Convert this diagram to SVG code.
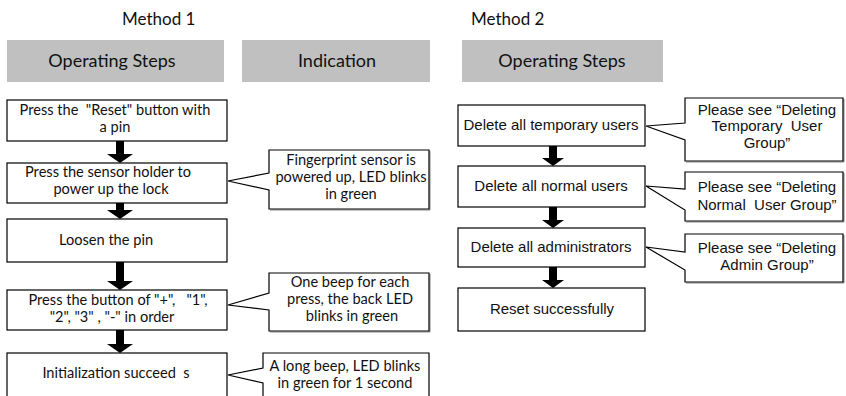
<svg xmlns="http://www.w3.org/2000/svg" width="846" height="396" viewBox="0 0 846 396">
  <style>
    .title { font-family: Lato, "Open Sans", sans-serif; font-size: 17px; fill: #111; }
    .hdr { fill: #c0c0c0; }
    .hdrtxt { font-family: Lato, "Open Sans", sans-serif; font-size: 18px; fill: #111; text-anchor: middle; }
    .box { fill: #fff; stroke: #000; stroke-width: 1.2; }
    .call { fill: #fff; stroke: #000; stroke-width: 1.2; }
    .shadow { fill: none; stroke: #888; stroke-width: 1; }
    .t1 { font-family: Lato, "Open Sans", sans-serif; font-size: 14.6px; fill: #111; text-anchor: middle; white-space: pre; }
    .t2 { font-family: "Liberation Sans", Arial, sans-serif; font-size: 15px; fill: #111; text-anchor: middle; white-space: pre; }
    .arrow { fill: #000; }
  </style>
  <rect width="846" height="396" fill="#fff"/>

  <!-- column titles and headers -->
  <g id="headers">
    <text class="title" x="122" y="25">Method 1</text>
    <text class="title" x="471" y="25">Method 2</text>
    <rect class="hdr" x="7" y="40" width="217" height="42"/>
    <text class="hdrtxt" x="112" y="67">Operating Steps</text>
    <rect class="hdr" x="242" y="40" width="188" height="42"/>
    <text class="hdrtxt" x="337" y="67">Indication</text>
    <rect class="hdr" x="462" y="40" width="201" height="42"/>
    <text class="hdrtxt" x="562" y="67">Operating Steps</text>
  </g>

  <!-- Method 1 steps -->
  <g id="m1-step1">
    <rect class="box" x="7" y="100" width="220" height="41"/>
    <text class="t1" x="115" y="115">Press the  "Reset" button with</text>
    <text class="t1" x="115" y="132">a pin</text>
  </g>
  <g id="m1-step2">
    <rect class="box" x="7" y="163" width="220" height="40"/>
    <text class="t1" x="108" y="177">Press the sensor holder to</text>
    <text class="t1" x="111" y="194">power up the lock</text>
  </g>
  <g id="m1-step3">
    <rect class="box" x="7" y="219" width="220" height="43"/>
    <text class="t1" x="106" y="245">Loosen the pin</text>
  </g>
  <g id="m1-step4">
    <rect class="box" x="7" y="290" width="220" height="40"/>
    <text class="t1" x="118" y="305">Press the button of "+",   "1",</text>
    <text class="t1" x="112" y="322">"2", "3" , "-" in order</text>
  </g>
  <g id="m1-step5">
    <rect class="box" x="7" y="353" width="220" height="50"/>
    <text class="t1" x="116" y="378">Initialization succeed  s</text>
  </g>

  <!-- Method 1 indications -->
  <g id="m1-note1">
    <path class="shadow" d="M430 151 V210 H270"/>
    <path class="call" d="M269 150 H429 V209 H269 V190 L228 181 L269 173 Z"/>
    <text class="t1" x="351" y="165">Fingerprint sensor is</text>
    <text class="t1" x="351" y="182">powered up, LED blinks</text>
    <text class="t1" x="351" y="199">in green</text>
  </g>
  <g id="m1-note2">
    <path class="shadow" d="M430 274 V332 H270"/>
    <path class="call" d="M269 273 H429 V331 H269 V310 L228 305 L269 293 Z"/>
    <text class="t1" x="350" y="287">One beep for each</text>
    <text class="t1" x="350" y="304">press, the back LED</text>
    <text class="t1" x="352" y="321">blinks in green</text>
  </g>
  <g id="m1-note3">
    <path class="call" d="M263 353 H429 V400 H263 V383 L228 375 L263 368 Z"/>
    <text class="t1" x="345" y="371">A long beep, LED blinks</text>
    <text class="t1" x="345" y="388">in green for 1 second</text>
  </g>

  <!-- Method 2 steps -->
  <g id="m2-step1">
    <rect class="box" x="458" y="105" width="187" height="41"/>
    <text class="t2" x="551" y="130">Delete all temporary users</text>
  </g>
  <g id="m2-step2">
    <rect class="box" x="458" y="166" width="187" height="41"/>
    <text class="t2" x="551" y="191">Delete all normal users</text>
  </g>
  <g id="m2-step3">
    <rect class="box" x="458" y="228" width="187" height="39"/>
    <text class="t2" x="551" y="252">Delete all administrators</text>
  </g>
  <g id="m2-step4">
    <rect class="box" x="458" y="288" width="187" height="43"/>
    <text class="t2" x="552" y="314">Reset successfully</text>
  </g>

  <!-- Method 2 references -->
  <g id="m2-note1">
    <path class="shadow" d="M844 99 V162 H686"/>
    <path class="call" d="M685 98 H843 V161 H685 V140 L646 126 L685 123 Z"/>
    <text class="t2" x="767" y="115">Please see “Deleting</text>
    <text class="t2" x="767" y="131">Temporary  User</text>
    <text class="t2" x="767" y="148">Group”</text>
  </g>
  <g id="m2-note2">
    <path class="shadow" d="M844 173 V222 H686"/>
    <path class="call" d="M685 172 H843 V221 H685 V210 L646 186 L685 189 Z"/>
    <text class="t2" x="767" y="192">Please see “Deleting</text>
    <text class="t2" x="767" y="210">Normal  User Group”</text>
  </g>
  <g id="m2-note3">
    <path class="shadow" d="M844 235 V283 H686"/>
    <path class="call" d="M685 234 H843 V282 H685 V270 L646 247 L685 252 Z"/>
    <text class="t2" x="767" y="253">Please see “Deleting</text>
    <text class="t2" x="767" y="270">Admin Group”</text>
  </g>

  <!-- flow arrows -->
  <g id="connectors">
    <path class="arrow" d="M116 141 H124 V154 H133 L120 163 L107 154 H116 Z"/>
    <path class="arrow" d="M116 203 H124 V210 H133 L120 219 L107 210 H116 Z"/>
    <path class="arrow" d="M116 262 H124 V281 H133 L120 290 L107 281 H116 Z"/>
    <path class="arrow" d="M116 330 H124 V344 H133 L120 353 L107 344 H116 Z"/>
    <path class="arrow" d="M549 146 H557 V158 H564 L553 166 L542 158 H549 Z"/>
    <path class="arrow" d="M549 207 H557 V220 H564 L553 228 L542 220 H549 Z"/>
    <path class="arrow" d="M549 267 H557 V280 H564 L553 288 L542 280 H549 Z"/>
  </g>
</svg>
